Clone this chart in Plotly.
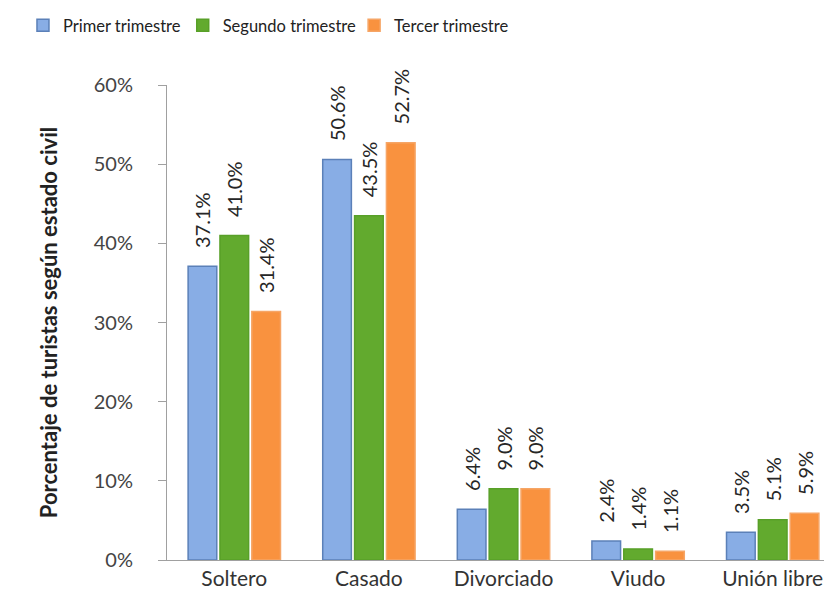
import plotly.graph_objects as go

# estado civil categories and quarter shares (%)
categorias = ["Soltero", "Casado", "Divorciado", "Viudo", "Unión libre"]
primer = [37.1, 50.6, 6.4, 2.4, 3.5]
segundo = [41.0, 43.5, 9.0, 1.4, 5.1]
tercer = [31.4, 52.7, 9.0, 1.1, 5.9]
y_ticks = [0, 10, 20, 30, 40, 50, 60]

series = [
    ("Primer trimestre", primer, "#88ade5", "#5b80b8", "legend", 0.018),
    ("Segundo trimestre", segundo, "#62aa2e", "#58a028", "legend2", 0.210),
    ("Tercer trimestre", tercer, "#f9923f", "#f6a566", "legend3", 0.416),
]

fig = go.Figure()
legends = {}
for name, vals, color, edge, leg, lx in series:
    fig.add_trace(go.Bar(
        name=name, x=categorias, y=vals, legend=leg,
        marker=dict(color=color, line=dict(color=edge, width=1.5)),
        # nbsp pushes the rotated label a bit away from the bar top
        text=[f"\u00a0\u00a0\u00a0{v:.1f}%" for v in vals],
        textposition="outside", textangle=-90,
        constraintext="none", cliponaxis=False,
        textfont=dict(size=20, color="#262626"),
    ))
    legends[leg] = dict(orientation="h", x=lx, xref="container", y=1.0,
                        yref="container", yanchor="top", xanchor="left",
                        font=dict(size=16.5, color="#222222"), bgcolor="rgba(0,0,0,0)")

fig.update_layout(
    width=832, height=599,
    paper_bgcolor="white", plot_bgcolor="white",
    font=dict(family="Lato, Open Sans, sans-serif", size=20, color="#333333"),
    barmode="group", bargap=0.29, bargroupgap=0.1,
    margin=dict(l=159, r=0, t=77, b=47),
    showlegend=True,
    xaxis=dict(showline=True, linecolor="#a0a0a0", linewidth=1, ticks="",
               tickfont=dict(size=21, color="#333333")),
    yaxis=dict(range=[0, 60], tickvals=y_ticks,
               ticktext=[f"{t}%" for t in y_ticks],
               showgrid=False, zeroline=False, showline=True,
               linecolor="#a0a0a0", linewidth=1, ticks="outside",
               ticklen=8, tickcolor="#a0a0a0", ticklabelstandoff=21,
               tickfont=dict(size=20, color="#444444"),
               title=dict(text="<b>Porcentaje de turistas según estado civil</b>",
                          font=dict(size=22, color="#222222"), standoff=30)),
    **legends,
)

fig.write_html("out.html")
